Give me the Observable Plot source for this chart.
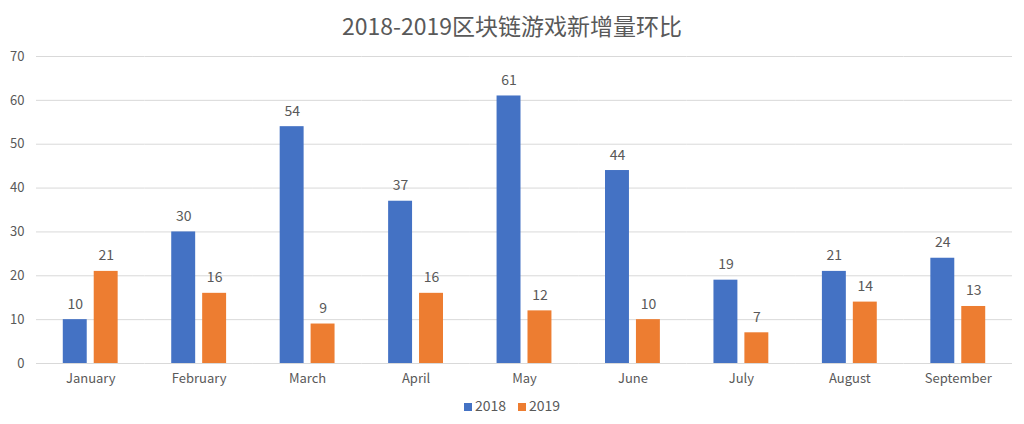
<!DOCTYPE html>
<html><head><meta charset="utf-8">
<script src="https://cdn.jsdelivr.net/npm/d3@7"></script>
<script src="https://cdn.jsdelivr.net/npm/@observablehq/plot@0.6"></script>
<style>
body{margin:0;background:#fff;font-family:"Noto Sans CJK SC","Noto Sans",sans-serif;}
#title{height:46px;line-height:50px;text-align:center;font-size:23px;color:#595959;}
#legend{display:flex;justify-content:center;align-items:center;height:24px;font-size:14px;color:#595959;gap:12px;}
.sw{display:inline-block;width:8px;height:8px;margin-right:3px;vertical-align:middle;}
</style></head>
<body>
<div id="title">2018-2019区块链游戏新增量环比</div>
<div id="chart"></div>
<div id="legend"></div>
<script>
const months = ["January","February","March","April","May","June","July","August","September"];
const years = ["2018","2019"];
const values2018 = [10,30,54,37,61,44,19,21,24];
const values2019 = [21,16,9,16,12,10,7,14,13];
const colors = ["#4472C4","#ED7D31"];
const yTicks = [0,10,20,30,40,50,60,70];

const data = [];
months.forEach((m,i)=>{
  data.push({month:m, year:"2018", value:values2018[i]});
  data.push({month:m, year:"2019", value:values2019[i]});
});

const chart = Plot.plot({
  width: 1024,
  height: 347,
  marginTop: 10,
  marginLeft: 36,
  marginRight: 12,
  marginBottom: 30,
  style: {fontFamily: '"Noto Sans CJK SC","Noto Sans",sans-serif', fontSize: "13px", color: "#595959"},
  fx: {domain: months, padding: 0, round: false, label: null, tickSize: 0, tickPadding: 10},
  x: {domain: years, paddingInner: 0.226, paddingOuter: 0.866, round: false, axis: null},
  y: {domain: [0,70], ticks: yTicks, label: null, tickSize: 0, tickPadding: 12, grid: false},
  color: {domain: years, range: colors},
  marks: [
    Plot.ruleY(yTicks, {stroke: "#d9d9d9", strokeWidth: 1}),
    Plot.barY(data, {fx: "month", x: "year", y: "value", fill: "year"}),
    Plot.text(data, {fx: "month", x: "year", y: "value", text: d => String(d.value), lineAnchor: "bottom", dy: -11, fill: "#595959", fontSize: 14})
  ]
});
document.getElementById("chart").appendChild(chart);

const lg = document.getElementById("legend");
years.forEach((y,i)=>{
  const s = document.createElement("span");
  s.innerHTML = `<span class="sw" style="background:${colors[i]}"></span>${y}`;
  lg.appendChild(s);
});
</script>
</body></html>
